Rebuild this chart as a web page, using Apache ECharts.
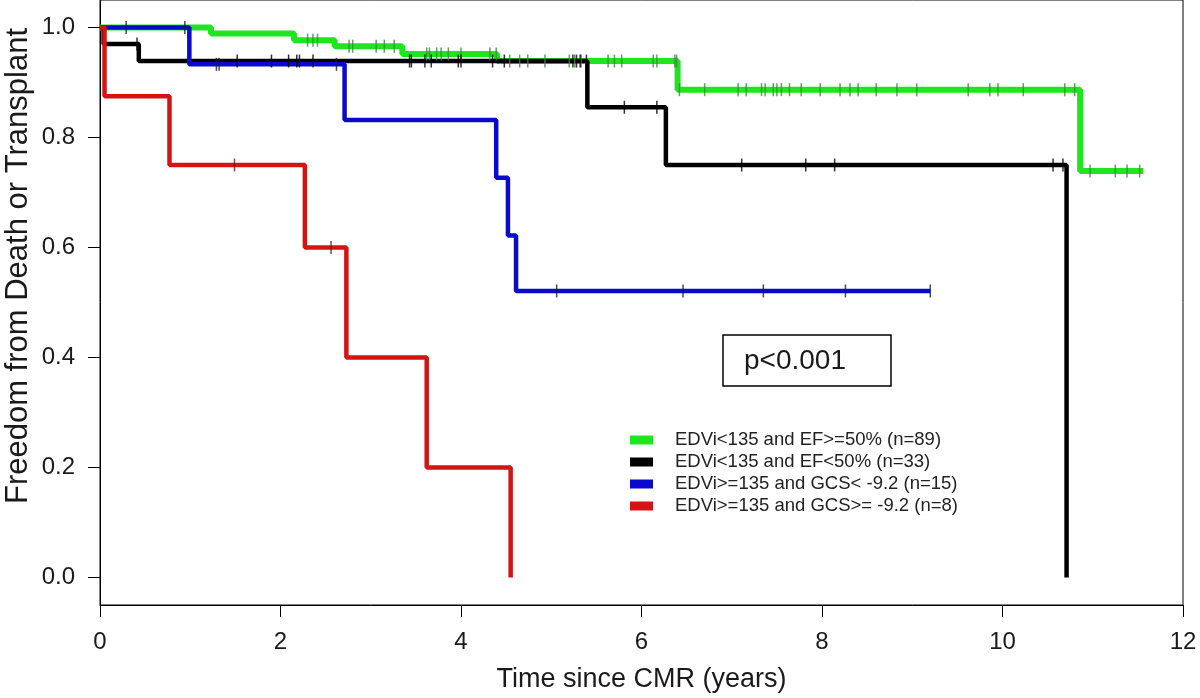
<!DOCTYPE html>
<html><head><meta charset="utf-8">
<script src="https://cdn.jsdelivr.net/npm/echarts@6/dist/echarts.min.js"></script>
<style>html,body{margin:0;padding:0;background:#fff}#c{width:1200px;height:698px}</style>
</head><body><div id="c"></div>
<script>
const timeTicks = [0, 2, 4, 6, 8, 10, 12];
const survTicks = [0, 0.2, 0.4, 0.6, 0.8, 1.0];
const groupNames = ['EDVi<135 and EF>=50% (n=89)', 'EDVi<135 and EF<50% (n=33)', 'EDVi>=135 and GCS< -9.2 (n=15)', 'EDVi>=135 and GCS>= -9.2 (n=8)'];
const greenSteps = [[0,1],[1.23,0.989],[2.15,0.977],[2.60,0.966],[3.35,0.952],[4.40,0.939],[6.40,0.887],[10.86,0.739],[11.56,0.739]];
const greenCensor = [2.30,2.36,2.41,2.76,2.80,3.06,3.15,3.26,3.62,3.65,3.73,3.78,3.86,4.00,4.32,4.39,4.54,4.65,4.74,4.93,5.20,5.26,5.33,5.63,5.70,5.78,6.13,6.17,6.37,6.39,6.42,6.70,7.07,7.16,7.33,7.37,7.46,7.50,7.55,7.64,7.77,7.98,8.20,8.31,8.40,8.60,8.83,9.05,9.62,9.86,9.95,10.23,10.69,10.80,10.97,11.25,11.38,11.52];
const blackSteps = [[0,1],[0.04,0.970],[0.43,0.939],[5.40,0.855],[6.27,0.750],[10.71,0]];
const blackCensor = [0.41,1.52,1.90,2.09,2.18,2.21,2.36,3.43,3.45,3.60,3.67,3.97,4.00,4.35,4.48,5.24,5.28,5.32,5.39,5.81,6.17,7.11,7.82,8.14,10.56,10.67];
const blueSteps = [[0,1],[0.99,0.933],[2.71,0.832],[4.39,0.727],[4.52,0.622],[4.61,0.521],[9.20,0.521]];
const blueCensor = [0.29,0.94,1.29,1.32,2.62,5.06,6.46,7.35,8.26,9.20];
const redSteps = [[0,1],[0.05,0.875],[0.77,0.75],[2.27,0.6],[2.73,0.4],[3.62,0.2],[4.55,0]];
const redCensor = [1.49,2.56];

const lineColors = ['#1ee61e', '#000000', '#0a0acf', '#d41414'];
const tickColors = ['#3a8a3a', '#000000', '#1a1a40', '#5a2020'];
const lineWidths = [6, 4.5, 4.5, 4.5];
const allSteps = [greenSteps, blackSteps, blueSteps, redSteps];
const allCensor = [greenCensor, blackCensor, blueCensor, redCensor];

function levelAt(steps, t) {
  let s = steps[0][1];
  for (const p of steps) { if (p[0] <= t) s = p[1]; }
  return s;
}

const series = [];
allSteps.forEach((steps, i) => {
  series.push({
    name: groupNames[i], type: 'line', step: 'end', data: steps,
    showSymbol: false, symbol: 'none', color: lineColors[i],
    lineStyle: { color: lineColors[i], width: lineWidths[i] },
    z: 2 + i, silent: true
  });
});
allCensor.forEach((cs, i) => {
  series.push({
    name: 'censor' + i, type: 'scatter', symbol: 'rect', symbolSize: [1.5, 13],
    data: cs.map(t => [t, levelAt(allSteps[i], t)]),
    itemStyle: { color: tickColors[i] }, z: 10, silent: true
  });
});

const chart = echarts.init(document.getElementById('c'), null, { renderer: 'canvas' });
chart.setOption({
  animation: false,
  backgroundColor: '#ffffff',
  grid: { left: 100, right: 17, top: 0, bottom: 92, show: true, borderColor: '#000', borderWidth: 1, backgroundColor: 'transparent' },
  xAxis: {
    type: 'value', min: 0, max: 12, interval: 2,
    name: 'Time since CMR (years)', nameLocation: 'middle', nameGap: 61,
    nameTextStyle: { fontSize: 27, color: '#1a1a1a', fontFamily: 'Liberation Sans, Arial, sans-serif' },
    axisLine: { show: true, onZero: false, lineStyle: { color: '#000', width: 1 } },
    axisTick: { show: true, length: 12, lineStyle: { color: '#000' } },
    axisLabel: { fontSize: 24, color: '#1a1a1a', margin: 25, fontFamily: 'Liberation Sans, Arial, sans-serif',
      formatter: v => timeTicks.includes(v) ? String(v) : '' },
    splitLine: { show: false }
  },
  yAxis: {
    type: 'value', min: -0.05, max: 1.05,
    axisLine: { show: true, onZero: false, lineStyle: { color: '#000', width: 1 } },
    axisTick: { show: true, length: 12, customValues: survTicks, lineStyle: { color: '#000' } },
    axisLabel: { fontSize: 24, color: '#1a1a1a', margin: 25, customValues: survTicks,
      fontFamily: 'Liberation Sans, Arial, sans-serif', formatter: v => v.toFixed(1) },
    splitLine: { show: false }
  },
  legend: {
    data: groupNames, orient: 'vertical', left: 625, top: 425,
    icon: 'rect', itemWidth: 23, itemHeight: 9, itemGap: 2,
    textStyle: { fontSize: 18.5, lineHeight: 20, color: '#222', padding: [0, 0, 0, 17], fontFamily: 'Liberation Sans, Arial, sans-serif' },
    selectedMode: false
  },
  graphic: [
    { type: 'rect', shape: { x: 723, y: 335, width: 168, height: 51 }, style: { fill: '#fff', stroke: '#000', lineWidth: 1.5 }, z: 20 },
    { type: 'text', x: 795, y: 361, style: { text: 'p<0.001', fontSize: 28, fill: '#1a1a1a', align: 'center', verticalAlign: 'middle', fontFamily: 'Liberation Sans, Arial, sans-serif' }, z: 21 },
    { type: 'text', x: 18, y: 266, rotation: Math.PI / 2, style: { text: 'Freedom from Death or Transplant', fontSize: 31, fill: '#1a1a1a', align: 'center', verticalAlign: 'middle', fontFamily: 'Liberation Sans, Arial, sans-serif' } }
  ],
  series: series
});
</script>
</body></html>
